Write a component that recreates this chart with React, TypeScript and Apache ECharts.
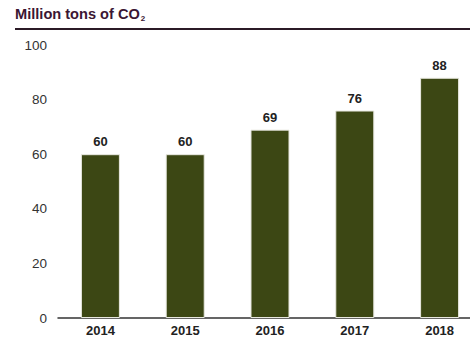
import React, { useEffect, useRef } from "react";
import * as echarts from "echarts";

const years = ["2014", "2015", "2016", "2017", "2018"];
const emissions = [60, 60, 69, 76, 88];
const yTicks = { min: 0, max: 100, interval: 20 };

export default function App() {
  const ref = useRef<HTMLDivElement>(null);

  useEffect(() => {
    document.body.style.margin = "0";
    const chart = echarts.init(ref.current!, null, { renderer: "svg" });
    const font = "Liberation Sans, Arial, sans-serif";
    chart.setOption({
      animation: false,
      backgroundColor: "#ffffff",
      textStyle: { fontFamily: font },
      graphic: [
        {
          type: "text",
          left: 15,
          top: 6,
          style: {
            text: "{t|Million tons of CO}{s|2}",
            rich: {
              t: { fontSize: 14.6, fontWeight: "bold", fill: "#3b1633", fontFamily: font },
              s: { fontSize: 8, fontWeight: "bold", fill: "#3b1633", padding: [9, 0, 0, 1], fontFamily: font },
            },
          },
        },
        {
          type: "line",
          shape: { x1: 15, y1: 29, x2: 470, y2: 29 },
          style: { stroke: "#2b1a26", lineWidth: 2 },
        },
      ],
      grid: { left: 58, top: 45, width: 424, height: 273, outerBoundsMode: "none", containLabel: false },
      xAxis: {
        type: "category",
        data: years,
        axisTick: { show: false },
        axisLine: { lineStyle: { color: "#333333", width: 1.5 } },
        axisLabel: { color: "#222222", fontSize: 13, fontWeight: "bold", margin: 6 },
      },
      yAxis: {
        type: "value",
        ...yTicks,
        splitLine: { show: false },
        axisLine: { show: false },
        axisTick: { show: false },
        axisLabel: { color: "#333333", fontSize: 13.5, margin: 11 },
      },
      series: [
        {
          type: "bar",
          data: emissions,
          barWidth: "46%",
          itemStyle: { color: "#3c4714", borderColor: "#e8e8e0", borderWidth: 1 },
          label: {
            show: true,
            position: "top",
            distance: 6,
            color: "#222222",
            fontSize: 13,
            fontWeight: "bold",
          },
        },
      ],
    });
    return () => chart.dispose();
  }, []);

  return <div ref={ref} style={{ width: 470, height: 337 }} />;
}
